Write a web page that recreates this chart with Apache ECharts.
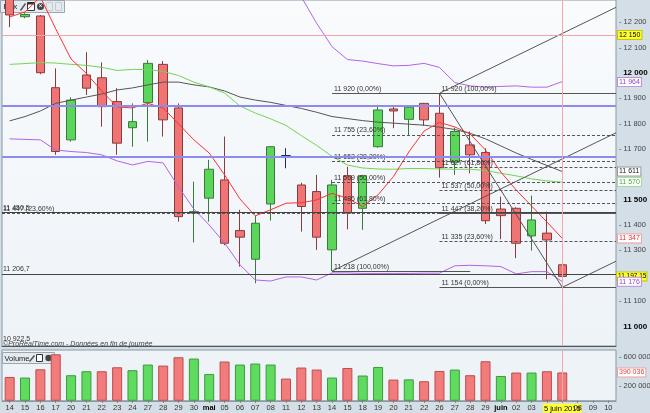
<!DOCTYPE html>
<html><head><meta charset="utf-8">
<script src="https://cdn.jsdelivr.net/npm/echarts@6/dist/echarts.min.js"></script>
<style>html,body{margin:0;padding:0;background:#d3dee6}#c{width:650px;height:413px}</style>
</head><body><div id="c"></div>
<script>
// ---- categories (trading days, 14 avril -> 10 juin 2015)
const categories = ['14','15','16','17','20','21','22','23','24','27','28','29','30','mai','05','06','07','08','11','12','13','14','15','18','19','20','21','22','26','27','28','29','juin','02','03','04','05','08','09','10'];
const highlightIndex = 36;
const highlightLabel = '5 juin 2015';

// ---- OHLC
const opens  = [12330,12222,12225,11942,11736,11992,11981,11887,11784,11883,12034,11862,11447,11506,11578,11378,11265,11483,11674,11558,11532,11302,11594,11466,11709,11858,11817,11880,11841,11648,11716,11686,11463,11466,11357,11368,11243];
const closes = [12229,12231,12001,11690,11893,11940,11867,11723,11808,12038,11815,11433,11453,11620,11328,11352,11407,11709,11674,11473,11352,11558,11447,11594,11854,11850,11865,11815,11626,11769,11677,11417,11437,11328,11420,11341,11197.15];
const lows   = [12181,12216,11995,11677,11729,11913,11788,11677,11709,11729,11749,11413,11331,11413,11320,11236,11170,11417,11624,11374,11302,11218,11383,11381,11705,11782,11755,11791,11587,11598,11604,11404,11344,11269,11299,11186,11154];
const highs  = [12345,12236,12229,12018,11904,12082,12042,11940,11880,12051,12047,11880,11571,11657,11749,11460,11436,11712,11703,11567,11598,11578,11630,11598,11874,11866,11870,11882,11920,11784,11769,11703,11512,11470,11516,11453,11289];
const dojiIndex = 18;

// ---- volume
const volumes  = [328000,320000,434000,641000,352000,407000,407000,462000,421000,499000,485000,600000,582000,368000,541000,499000,513000,499000,306000,458000,430000,320000,452000,348000,466000,292000,295000,269000,411000,430000,352000,545000,342000,389000,389000,407000,390036];
const volumeUp = [0,1,0,0,1,1,0,0,1,1,0,0,1,1,0,1,1,1,0,0,0,1,0,1,1,0,1,0,0,1,0,0,1,0,1,0,0];

// ---- indicators
const maShort = [12221,12241,12300,12174,12055,11998,11929,11866,11862,11880,11862,11799,11736,11684,11598,11503,11436,11460,11486,11488,11499,11525,11506,11473,11519,11591,11688,11771,11805,11787,11759,11696,11609,11538,11475,11412,11347];
const maMid   = [12034,12037,12041,12039,12034,12030,12022,12010,12014,12014,12006,11990,11964,11945,11921,11870,11842,11819,11793,11753,11714,11671,11637,11625,11621,11620,11623,11623,11621,11620,11620,11615,11604,11594,11582,11574,11569];
const maLong  = [11811,11828,11850,11880,11893,11905,11917,11933,11941,11953,11964,11964,11953,11945,11929,11905,11893,11884,11872,11860,11845,11828,11820,11812,11806,11802,11798,11794,11786,11777,11762,11740,11712,11684,11659,11635,11611];
const bbUpper = [12328,12336,12346,12382,12378,12374,12367,12367,12391,12377,12367,12430,12465,12490,12513,12497,12501,12459,12391,12300,12196,12104,12053,12047,12037,12028,12030,12038,12022,11962,11949,11944,11947,11949,11944,11944,11966];
const bbLower = [11740,11738,11736,11696,11690,11686,11677,11653,11637,11651,11645,11550,11463,11400,11329,11243,11183,11179,11195,11195,11183,11211,11211,11209,11209,11209,11209,11210,11210,11239,11241,11239,11236,11207,11216,11216,11177];

// ---- drawings
const trendLines = [
  [[21, 11218], [39.5, 11764]],
  [[28, 11920], [39.5, 12259]],
  [[36, 11154], [39.5, 11257]],
  [[28, 11920], [36, 11154]]
];
const fibALevels = [11920, 11755, 11652, 11569, 11486, 11218];
const fibALabels = ['11 920 (0,00%)','11 755 (23,60%)','11 652 (38,20%)','11 569 (50,00%)','11 486 (61,80%)','11 218 (100,00%)'];
const fibAStart = 21;
const fibAEnds = [39.5, 39.5, 39.5, 39.5, 39.5, 30];
const fibBLevels = [11920, 11627, 11537, 11447, 11335, 11154];
const fibBLabels = ['11 920 (100,00%)','11 627 (61,80%)','11 537 (50,00%)','11 447 (38,20%)','11 335 (23,60%)','11 154 (0,00%)'];
const fibBStart = 28;
const fibBEnd = 39.5;

const hLineLevels = [12150, 11870, 11670, 11450.5, 11447, 11206.7];
const hLineLabels = ['', '', '', '11 450,5', '11 447 (23,60%)', '11 206,7'];

const markerValues = [12150, 11964, 11611, 11570, 11347, 11197.15, 11176];
const markerTexts  = ['12 150','11 964','11 611','11 570','11 347','11 197,15','11 176'];
const volumeMarker = 390036;
const volumeMarkerText = '390 036';

// ---- axis ticks
const priceMin = 10922.5, priceMax = 12288;
const priceTicks = [11000,11100,11300,11400,11500,11700,11800,11900,12000,12100,12200];
const boldTicks = [11000,11500,12000];
const volumeTicks = [200000, 600000];

// ---------------------------------------------------------------
const fmt = v => String(v).replace(/\B(?=(\d{3})+(?!\d))/g, ' ');
const FONT = 'Liberation Sans';
const CLEAR = 'rgba(0,0,0,0)';

const candleData = opens.map((o, i) => {
  const item = { value: [o, closes[i], lows[i], highs[i]] };
  if (i === dojiIndex) item.itemStyle = { color: '#1c2a70', color0: '#1c2a70', borderColor: '#1c2a70', borderColor0: '#1c2a70' };
  return item;
});

const volData = volumes.map((v, i) => ({
  value: v,
  itemStyle: volumeUp[i]
    ? { color: '#5fdc5f', borderColor: '#3c9a3c', borderWidth: 1 }
    : { color: '#f27c7c', borderColor: '#c04c4c', borderWidth: 1 }
}));

const markerStyles = [
  { color: '#000', backgroundColor: '#ffff33', borderColor: '#c8c800' },
  { color: '#9a40d0', backgroundColor: '#ffffff', borderColor: '#b890d8' },
  { color: '#222', backgroundColor: '#ffffff', borderColor: '#999' },
  { color: '#3cb030', backgroundColor: '#ffffff', borderColor: '#a8d8a0' },
  { color: '#e83030', backgroundColor: '#ffffff', borderColor: '#f0a0a0' },
  { color: '#000', backgroundColor: '#ffff33', borderColor: '#c8c800' },
  { color: '#9a40d0', backgroundColor: '#ffffff', borderColor: '#b890d8' }
];

const priceMarkLines = [];
hLineLevels.forEach((v, i) => {
  let ls;
  if (v === 12150) ls = { color: '#f4a4a4', width: 1, type: 'solid' };
  else if (v === 11870 || v === 11670) ls = { color: '#8c8cf0', width: 2, type: 'solid' };
  else if (hLineLabels[i].indexOf('%') >= 0) ls = { color: '#555', width: 1, type: [3, 2] };
  else ls = { color: '#444', width: 1, type: 'solid' };
  priceMarkLines.push({
    yAxis: v, lineStyle: ls,
    label: hLineLabels[i] ? { show: true, position: 'insideStartTop', formatter: hLineLabels[i], color: '#333', fontSize: 7, distance: [1, 1] } : { show: false }
  });
});
markerValues.forEach((v, i) => {
  const st = markerStyles[i];
  const long = markerTexts[i].length > 6;
  priceMarkLines.push({
    yAxis: v,
    lineStyle: { color: CLEAR, width: 1 },
    label: { show: true, position: 'end', distance: long ? 1 : 2, formatter: markerTexts[i], fontSize: long ? 6.5 : 7, fontFamily: FONT,
      color: st.color, backgroundColor: st.backgroundColor, borderColor: st.borderColor, borderWidth: 1, padding: long ? [1, 0, 0, 1] : [1, 1, 0, 1] }
  });
});
priceMarkLines.push({ xAxis: highlightIndex, lineStyle: { color: '#f4a8a8', width: 1, type: 'solid' }, label: { show: false } });

const fibMarks = [];
fibALevels.forEach((v, i) => {
  const solid = (i === 0 || i === fibALevels.length - 1);
  fibMarks.push([
    { coord: [fibAStart, v], lineStyle: { color: '#555', width: 1, type: solid ? 'solid' : [3, 2] },
      label: { show: true, position: 'insideStartTop', formatter: fibALabels[i], color: '#333', fontSize: 7, distance: [2, 1] } },
    { coord: [fibAEnds[i], v] }
  ]);
});
fibBLevels.forEach((v, i) => {
  const solid = (i === 0 || i === fibBLevels.length - 1);
  fibMarks.push([
    { coord: [fibBStart, v], lineStyle: { color: '#555', width: 1, type: solid ? 'solid' : [3, 2] },
      label: { show: true, position: 'insideStartTop', formatter: fibBLabels[i], color: '#333', fontSize: 7, distance: [2, 1] } },
    { coord: [fibBEnd, v] }
  ]);
});

const lineSeries = (data, color, width) => ({
  type: 'line', xAxisIndex: 0, yAxisIndex: 0, data: data, symbol: 'none', smooth: false,
  lineStyle: { color: color, width: width || 1 }, z: 4, silent: true
});

const series = [
  {
    type: 'candlestick', xAxisIndex: 0, yAxisIndex: 0, data: candleData, barWidth: 9, z: 3,
    itemStyle: { color: '#5ad65a', color0: '#f07474', borderColor: '#3a7a3a', borderColor0: '#8a3c3c', borderWidth: 1 },
    markLine: { symbol: ['none', 'none'], silent: true, animation: false, z: 6, data: priceMarkLines }
  },
  lineSeries(bbUpper, '#b264e6'),
  lineSeries(bbLower, '#b264e6'),
  lineSeries(maLong, '#555555'),
  lineSeries(maMid, '#74d454'),
  lineSeries(maShort, '#ff3030'),
  {
    type: 'bar', xAxisIndex: 1, yAxisIndex: 1, data: volData, barWidth: 10,
    markLine: { symbol: ['none', 'none'], silent: true, animation: false, data: [
      { xAxis: highlightIndex, lineStyle: { color: '#f4a8a8', width: 1, type: 'solid' }, label: { show: false } },
      { yAxis: volumeMarker, lineStyle: { color: CLEAR, width: 1 },
        label: { show: true, position: 'end', distance: 2, formatter: volumeMarkerText, fontSize: 7, fontFamily: FONT, color: '#e84040', backgroundColor: '#fff', borderColor: '#f0a0a0', borderWidth: 1, padding: [1, 1, 0, 1] } }
    ] }
  }
];
trendLines.forEach((tl, k) => {
  const s = { type: 'line', xAxisIndex: 2, yAxisIndex: 0, data: tl, symbol: 'none', lineStyle: { color: '#555', width: 1 }, z: 5, silent: true };
  if (k === 0) s.markLine = { symbol: ['none', 'none'], silent: true, animation: false, data: fibMarks };
  series.push(s);
});

const option = {
  animation: false,
  backgroundColor: '#d3dee6',
  textStyle: { fontFamily: FONT },
  grid: [
    { left: 2, right: 34, top: 0, height: 346, show: true, borderColor: '#8a98a4', borderWidth: 1, containLabel: false, outerBoundsMode: 'none',
      backgroundColor: { type: 'linear', x: 0, y: 0, x2: 0, y2: 1, colorStops: [{ offset: 0, color: '#f9fbfd' }, { offset: 1, color: '#eef3f8' }] } },
    { left: 2, right: 34, top: 350, height: 50.75, show: true, borderColor: '#8a98a4', borderWidth: 1, backgroundColor: '#eef3f8', containLabel: false, outerBoundsMode: 'none' }
  ],
  xAxis: [
    { type: 'category', gridIndex: 0, data: categories, boundaryGap: true,
      axisLabel: { show: false }, axisTick: { show: false }, axisLine: { show: true, lineStyle: { color: '#555', width: 1 } } },
    { type: 'category', gridIndex: 1, data: categories, boundaryGap: true,
      axisLine: { show: true, lineStyle: { color: '#8a98a4' } },
      axisTick: { show: true, alignWithLabel: true, length: 2, lineStyle: { color: '#777' } },
      axisLabel: { interval: 0, margin: 3, fontSize: 7.5, color: '#333', fontFamily: FONT,
        formatter: (v, i) => i === highlightIndex ? '{h|' + highlightLabel + '}' : ((v === 'mai' || v === 'juin') ? '{b|' + v + '}' : v),
        rich: { h: { backgroundColor: '#ffff33', color: '#000', fontSize: 7.5, padding: [1, 1, 0, 1], fontFamily: FONT },
                b: { fontWeight: 'bold', color: '#000', fontSize: 7.5, fontFamily: FONT } } } },
    { type: 'value', gridIndex: 0, min: -0.5, max: 39.5, show: false }
  ],
  yAxis: [
    { type: 'value', gridIndex: 0, position: 'right', min: priceMin, max: priceMax,
      splitLine: { show: false }, axisLine: { show: false },
      axisTick: { show: false },
      axisLabel: { customValues: priceTicks, margin: 3, fontSize: 7.5, color: '#444', fontFamily: FONT,
        formatter: v => boldTicks.indexOf(v) >= 0 ? '  {b|' + fmt(v) + '}' : '- ' + fmt(v),
        rich: { b: { fontWeight: 'bold', color: '#000', fontSize: 8, fontFamily: FONT } } } },
    { type: 'value', gridIndex: 1, position: 'right', min: 0, max: 700000,
      splitLine: { show: false }, axisLine: { show: false },
      axisTick: { show: false },
      axisLabel: { customValues: volumeTicks, margin: 3, fontSize: 7.5, color: '#444', fontFamily: FONT, formatter: v => '- ' + fmt(v) } }
  ],
  graphic: [
    { type: 'group', left: 0, top: 0, z: 100, children: [
      { type: 'rect', shape: { x: 0, y: 0, width: 64, height: 12 }, style: { fill: '#e3eaf0', stroke: '#9aa6b0', lineWidth: 1 } },
      { type: 'text', x: 3, y: 2, style: { text: 'Prix', fontSize: 8, fill: '#222', fontFamily: FONT } },
      { type: 'line', shape: { x1: 20, y1: 10, x2: 25, y2: 3 }, style: { stroke: '#555', lineWidth: 1.5 } },
      { type: 'rect', shape: { x: 27, y: 2, width: 7, height: 8 }, style: { fill: '#fff', stroke: '#333', lineWidth: 1 } },
      { type: 'rect', shape: { x: 27, y: 2, width: 7, height: 2 }, style: { fill: '#333' } },
      { type: 'circle', shape: { cx: 40, cy: 6, r: 3.5 }, style: { fill: '#444' } },
      { type: 'text', x: 38, y: 2.5, style: { text: '×', fontSize: 7, fill: '#fff', fontFamily: FONT } },
      { type: 'rect', shape: { x: 46, y: 2, width: 6, height: 8 }, style: { fill: 'none', stroke: '#c8ccd0' } },
      { type: 'rect', shape: { x: 55, y: 2, width: 6, height: 8 }, style: { fill: 'none', stroke: '#c8ccd0' } }
    ] },
    { type: 'group', left: 2, top: 352, z: 100, children: [
      { type: 'rect', shape: { x: 0, y: 0, width: 52, height: 11 }, style: { fill: '#e3eaf0', stroke: '#9aa6b0', lineWidth: 1 } },
      { type: 'text', x: 2, y: 2, style: { text: 'Volume', fontSize: 7.5, fill: '#222', fontFamily: FONT } },
      { type: 'line', shape: { x1: 27, y1: 9, x2: 32, y2: 3 }, style: { stroke: '#555', lineWidth: 1.5 } },
      { type: 'rect', shape: { x: 34, y: 2, width: 6, height: 7 }, style: { fill: '#fff', stroke: '#333', lineWidth: 1 } },
      { type: 'circle', shape: { cx: 46, cy: 5.5, r: 3.2 }, style: { fill: '#444' } }
    ] },
    { type: 'text', left: 3, top: 336, z: 100, style: { text: '10 922,5', fontSize: 7, fill: '#333', fontFamily: FONT } },
    { type: 'text', left: 3, top: 341, z: 100, style: { text: '©ProRealTime.com - Données en fin de journée', fontSize: 7, fontStyle: 'italic', fill: '#444', fontFamily: FONT } }
  ],
  series: series
};

const chart = echarts.init(document.getElementById('c'), null, { renderer: 'canvas' });
chart.setOption(option);
</script>
</body></html>
